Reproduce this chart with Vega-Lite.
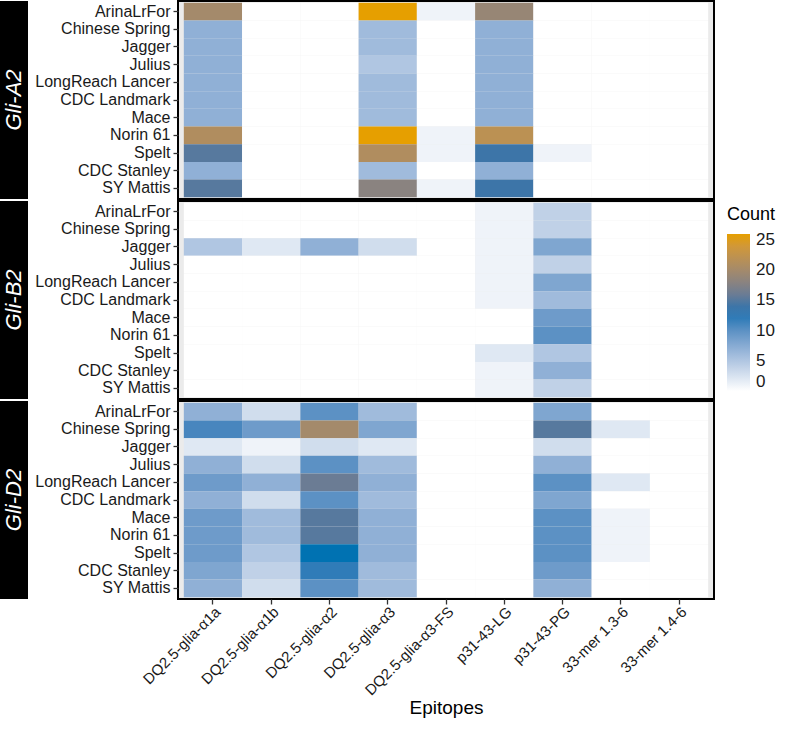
{
  "$schema": "https://vega.github.io/schema/vega-lite/v6.json",
  "padding": {"left": 0, "top": 0, "right": 0, "bottom": 0},
  "background": "white",
  "config": {
    "font": "Liberation Sans",
    "view": {"stroke": null},
    "axis": {
      "labelFont": "Liberation Sans", "labelFontSize": 16, "labelColor": "#1a1a1a",
      "tickColor": "#333333", "tickSize": 5, "tickWidth": 1.3, "domain": false, "grid": false,
      "titleFont": "Liberation Sans", "titleFontSize": 19, "titleFontWeight": "normal", "titleColor": "black"
    }
  },
  "datasets": {
    "counts": [
      {"gene":"Gli-A2","cultivar":"ArinaLrFor","epitope":"DQ2.5-glia-α1a","count":20},
      {"gene":"Gli-A2","cultivar":"ArinaLrFor","epitope":"DQ2.5-glia-α1b","count":0},
      {"gene":"Gli-A2","cultivar":"ArinaLrFor","epitope":"DQ2.5-glia-α2","count":0},
      {"gene":"Gli-A2","cultivar":"ArinaLrFor","epitope":"DQ2.5-glia-α3","count":26},
      {"gene":"Gli-A2","cultivar":"ArinaLrFor","epitope":"DQ2.5-glia-α3-FS","count":1},
      {"gene":"Gli-A2","cultivar":"ArinaLrFor","epitope":"p31-43-LG","count":19},
      {"gene":"Gli-A2","cultivar":"ArinaLrFor","epitope":"p31-43-PG","count":0},
      {"gene":"Gli-A2","cultivar":"ArinaLrFor","epitope":"33-mer 1.3-6","count":0},
      {"gene":"Gli-A2","cultivar":"ArinaLrFor","epitope":"33-mer 1.4-6","count":0},
      {"gene":"Gli-A2","cultivar":"Chinese Spring","epitope":"DQ2.5-glia-α1a","count":7},
      {"gene":"Gli-A2","cultivar":"Chinese Spring","epitope":"DQ2.5-glia-α1b","count":0},
      {"gene":"Gli-A2","cultivar":"Chinese Spring","epitope":"DQ2.5-glia-α2","count":0},
      {"gene":"Gli-A2","cultivar":"Chinese Spring","epitope":"DQ2.5-glia-α3","count":6},
      {"gene":"Gli-A2","cultivar":"Chinese Spring","epitope":"DQ2.5-glia-α3-FS","count":0},
      {"gene":"Gli-A2","cultivar":"Chinese Spring","epitope":"p31-43-LG","count":7},
      {"gene":"Gli-A2","cultivar":"Chinese Spring","epitope":"p31-43-PG","count":0},
      {"gene":"Gli-A2","cultivar":"Chinese Spring","epitope":"33-mer 1.3-6","count":0},
      {"gene":"Gli-A2","cultivar":"Chinese Spring","epitope":"33-mer 1.4-6","count":0},
      {"gene":"Gli-A2","cultivar":"Jagger","epitope":"DQ2.5-glia-α1a","count":7},
      {"gene":"Gli-A2","cultivar":"Jagger","epitope":"DQ2.5-glia-α1b","count":0},
      {"gene":"Gli-A2","cultivar":"Jagger","epitope":"DQ2.5-glia-α2","count":0},
      {"gene":"Gli-A2","cultivar":"Jagger","epitope":"DQ2.5-glia-α3","count":6},
      {"gene":"Gli-A2","cultivar":"Jagger","epitope":"DQ2.5-glia-α3-FS","count":0},
      {"gene":"Gli-A2","cultivar":"Jagger","epitope":"p31-43-LG","count":7},
      {"gene":"Gli-A2","cultivar":"Jagger","epitope":"p31-43-PG","count":0},
      {"gene":"Gli-A2","cultivar":"Jagger","epitope":"33-mer 1.3-6","count":0},
      {"gene":"Gli-A2","cultivar":"Jagger","epitope":"33-mer 1.4-6","count":0},
      {"gene":"Gli-A2","cultivar":"Julius","epitope":"DQ2.5-glia-α1a","count":7},
      {"gene":"Gli-A2","cultivar":"Julius","epitope":"DQ2.5-glia-α1b","count":0},
      {"gene":"Gli-A2","cultivar":"Julius","epitope":"DQ2.5-glia-α2","count":0},
      {"gene":"Gli-A2","cultivar":"Julius","epitope":"DQ2.5-glia-α3","count":5},
      {"gene":"Gli-A2","cultivar":"Julius","epitope":"DQ2.5-glia-α3-FS","count":0},
      {"gene":"Gli-A2","cultivar":"Julius","epitope":"p31-43-LG","count":7},
      {"gene":"Gli-A2","cultivar":"Julius","epitope":"p31-43-PG","count":0},
      {"gene":"Gli-A2","cultivar":"Julius","epitope":"33-mer 1.3-6","count":0},
      {"gene":"Gli-A2","cultivar":"Julius","epitope":"33-mer 1.4-6","count":0},
      {"gene":"Gli-A2","cultivar":"LongReach Lancer","epitope":"DQ2.5-glia-α1a","count":7},
      {"gene":"Gli-A2","cultivar":"LongReach Lancer","epitope":"DQ2.5-glia-α1b","count":0},
      {"gene":"Gli-A2","cultivar":"LongReach Lancer","epitope":"DQ2.5-glia-α2","count":0},
      {"gene":"Gli-A2","cultivar":"LongReach Lancer","epitope":"DQ2.5-glia-α3","count":6},
      {"gene":"Gli-A2","cultivar":"LongReach Lancer","epitope":"DQ2.5-glia-α3-FS","count":0},
      {"gene":"Gli-A2","cultivar":"LongReach Lancer","epitope":"p31-43-LG","count":7},
      {"gene":"Gli-A2","cultivar":"LongReach Lancer","epitope":"p31-43-PG","count":0},
      {"gene":"Gli-A2","cultivar":"LongReach Lancer","epitope":"33-mer 1.3-6","count":0},
      {"gene":"Gli-A2","cultivar":"LongReach Lancer","epitope":"33-mer 1.4-6","count":0},
      {"gene":"Gli-A2","cultivar":"CDC Landmark","epitope":"DQ2.5-glia-α1a","count":7},
      {"gene":"Gli-A2","cultivar":"CDC Landmark","epitope":"DQ2.5-glia-α1b","count":0},
      {"gene":"Gli-A2","cultivar":"CDC Landmark","epitope":"DQ2.5-glia-α2","count":0},
      {"gene":"Gli-A2","cultivar":"CDC Landmark","epitope":"DQ2.5-glia-α3","count":6},
      {"gene":"Gli-A2","cultivar":"CDC Landmark","epitope":"DQ2.5-glia-α3-FS","count":0},
      {"gene":"Gli-A2","cultivar":"CDC Landmark","epitope":"p31-43-LG","count":7},
      {"gene":"Gli-A2","cultivar":"CDC Landmark","epitope":"p31-43-PG","count":0},
      {"gene":"Gli-A2","cultivar":"CDC Landmark","epitope":"33-mer 1.3-6","count":0},
      {"gene":"Gli-A2","cultivar":"CDC Landmark","epitope":"33-mer 1.4-6","count":0},
      {"gene":"Gli-A2","cultivar":"Mace","epitope":"DQ2.5-glia-α1a","count":7},
      {"gene":"Gli-A2","cultivar":"Mace","epitope":"DQ2.5-glia-α1b","count":0},
      {"gene":"Gli-A2","cultivar":"Mace","epitope":"DQ2.5-glia-α2","count":0},
      {"gene":"Gli-A2","cultivar":"Mace","epitope":"DQ2.5-glia-α3","count":6},
      {"gene":"Gli-A2","cultivar":"Mace","epitope":"DQ2.5-glia-α3-FS","count":0},
      {"gene":"Gli-A2","cultivar":"Mace","epitope":"p31-43-LG","count":7},
      {"gene":"Gli-A2","cultivar":"Mace","epitope":"p31-43-PG","count":0},
      {"gene":"Gli-A2","cultivar":"Mace","epitope":"33-mer 1.3-6","count":0},
      {"gene":"Gli-A2","cultivar":"Mace","epitope":"33-mer 1.4-6","count":0},
      {"gene":"Gli-A2","cultivar":"Norin 61","epitope":"DQ2.5-glia-α1a","count":21},
      {"gene":"Gli-A2","cultivar":"Norin 61","epitope":"DQ2.5-glia-α1b","count":0},
      {"gene":"Gli-A2","cultivar":"Norin 61","epitope":"DQ2.5-glia-α2","count":0},
      {"gene":"Gli-A2","cultivar":"Norin 61","epitope":"DQ2.5-glia-α3","count":26},
      {"gene":"Gli-A2","cultivar":"Norin 61","epitope":"DQ2.5-glia-α3-FS","count":1},
      {"gene":"Gli-A2","cultivar":"Norin 61","epitope":"p31-43-LG","count":22},
      {"gene":"Gli-A2","cultivar":"Norin 61","epitope":"p31-43-PG","count":0},
      {"gene":"Gli-A2","cultivar":"Norin 61","epitope":"33-mer 1.3-6","count":0},
      {"gene":"Gli-A2","cultivar":"Norin 61","epitope":"33-mer 1.4-6","count":0},
      {"gene":"Gli-A2","cultivar":"Spelt","epitope":"DQ2.5-glia-α1a","count":15},
      {"gene":"Gli-A2","cultivar":"Spelt","epitope":"DQ2.5-glia-α1b","count":0},
      {"gene":"Gli-A2","cultivar":"Spelt","epitope":"DQ2.5-glia-α2","count":0},
      {"gene":"Gli-A2","cultivar":"Spelt","epitope":"DQ2.5-glia-α3","count":21},
      {"gene":"Gli-A2","cultivar":"Spelt","epitope":"DQ2.5-glia-α3-FS","count":1},
      {"gene":"Gli-A2","cultivar":"Spelt","epitope":"p31-43-LG","count":14},
      {"gene":"Gli-A2","cultivar":"Spelt","epitope":"p31-43-PG","count":1},
      {"gene":"Gli-A2","cultivar":"Spelt","epitope":"33-mer 1.3-6","count":0},
      {"gene":"Gli-A2","cultivar":"Spelt","epitope":"33-mer 1.4-6","count":0},
      {"gene":"Gli-A2","cultivar":"CDC Stanley","epitope":"DQ2.5-glia-α1a","count":7},
      {"gene":"Gli-A2","cultivar":"CDC Stanley","epitope":"DQ2.5-glia-α1b","count":0},
      {"gene":"Gli-A2","cultivar":"CDC Stanley","epitope":"DQ2.5-glia-α2","count":0},
      {"gene":"Gli-A2","cultivar":"CDC Stanley","epitope":"DQ2.5-glia-α3","count":6},
      {"gene":"Gli-A2","cultivar":"CDC Stanley","epitope":"DQ2.5-glia-α3-FS","count":0},
      {"gene":"Gli-A2","cultivar":"CDC Stanley","epitope":"p31-43-LG","count":7},
      {"gene":"Gli-A2","cultivar":"CDC Stanley","epitope":"p31-43-PG","count":0},
      {"gene":"Gli-A2","cultivar":"CDC Stanley","epitope":"33-mer 1.3-6","count":0},
      {"gene":"Gli-A2","cultivar":"CDC Stanley","epitope":"33-mer 1.4-6","count":0},
      {"gene":"Gli-A2","cultivar":"SY Mattis","epitope":"DQ2.5-glia-α1a","count":15},
      {"gene":"Gli-A2","cultivar":"SY Mattis","epitope":"DQ2.5-glia-α1b","count":0},
      {"gene":"Gli-A2","cultivar":"SY Mattis","epitope":"DQ2.5-glia-α2","count":0},
      {"gene":"Gli-A2","cultivar":"SY Mattis","epitope":"DQ2.5-glia-α3","count":18},
      {"gene":"Gli-A2","cultivar":"SY Mattis","epitope":"DQ2.5-glia-α3-FS","count":1},
      {"gene":"Gli-A2","cultivar":"SY Mattis","epitope":"p31-43-LG","count":14},
      {"gene":"Gli-A2","cultivar":"SY Mattis","epitope":"p31-43-PG","count":0},
      {"gene":"Gli-A2","cultivar":"SY Mattis","epitope":"33-mer 1.3-6","count":0},
      {"gene":"Gli-A2","cultivar":"SY Mattis","epitope":"33-mer 1.4-6","count":0},

      {"gene":"Gli-B2","cultivar":"ArinaLrFor","epitope":"DQ2.5-glia-α1a","count":0},
      {"gene":"Gli-B2","cultivar":"ArinaLrFor","epitope":"DQ2.5-glia-α1b","count":0},
      {"gene":"Gli-B2","cultivar":"ArinaLrFor","epitope":"DQ2.5-glia-α2","count":0},
      {"gene":"Gli-B2","cultivar":"ArinaLrFor","epitope":"DQ2.5-glia-α3","count":0},
      {"gene":"Gli-B2","cultivar":"ArinaLrFor","epitope":"DQ2.5-glia-α3-FS","count":0},
      {"gene":"Gli-B2","cultivar":"ArinaLrFor","epitope":"p31-43-LG","count":1},
      {"gene":"Gli-B2","cultivar":"ArinaLrFor","epitope":"p31-43-PG","count":4},
      {"gene":"Gli-B2","cultivar":"ArinaLrFor","epitope":"33-mer 1.3-6","count":0},
      {"gene":"Gli-B2","cultivar":"ArinaLrFor","epitope":"33-mer 1.4-6","count":0},
      {"gene":"Gli-B2","cultivar":"Chinese Spring","epitope":"DQ2.5-glia-α1a","count":0},
      {"gene":"Gli-B2","cultivar":"Chinese Spring","epitope":"DQ2.5-glia-α1b","count":0},
      {"gene":"Gli-B2","cultivar":"Chinese Spring","epitope":"DQ2.5-glia-α2","count":0},
      {"gene":"Gli-B2","cultivar":"Chinese Spring","epitope":"DQ2.5-glia-α3","count":0},
      {"gene":"Gli-B2","cultivar":"Chinese Spring","epitope":"DQ2.5-glia-α3-FS","count":0},
      {"gene":"Gli-B2","cultivar":"Chinese Spring","epitope":"p31-43-LG","count":1},
      {"gene":"Gli-B2","cultivar":"Chinese Spring","epitope":"p31-43-PG","count":4},
      {"gene":"Gli-B2","cultivar":"Chinese Spring","epitope":"33-mer 1.3-6","count":0},
      {"gene":"Gli-B2","cultivar":"Chinese Spring","epitope":"33-mer 1.4-6","count":0},
      {"gene":"Gli-B2","cultivar":"Jagger","epitope":"DQ2.5-glia-α1a","count":5},
      {"gene":"Gli-B2","cultivar":"Jagger","epitope":"DQ2.5-glia-α1b","count":2},
      {"gene":"Gli-B2","cultivar":"Jagger","epitope":"DQ2.5-glia-α2","count":7},
      {"gene":"Gli-B2","cultivar":"Jagger","epitope":"DQ2.5-glia-α3","count":3},
      {"gene":"Gli-B2","cultivar":"Jagger","epitope":"DQ2.5-glia-α3-FS","count":0},
      {"gene":"Gli-B2","cultivar":"Jagger","epitope":"p31-43-LG","count":1},
      {"gene":"Gli-B2","cultivar":"Jagger","epitope":"p31-43-PG","count":8},
      {"gene":"Gli-B2","cultivar":"Jagger","epitope":"33-mer 1.3-6","count":0},
      {"gene":"Gli-B2","cultivar":"Jagger","epitope":"33-mer 1.4-6","count":0},
      {"gene":"Gli-B2","cultivar":"Julius","epitope":"DQ2.5-glia-α1a","count":0},
      {"gene":"Gli-B2","cultivar":"Julius","epitope":"DQ2.5-glia-α1b","count":0},
      {"gene":"Gli-B2","cultivar":"Julius","epitope":"DQ2.5-glia-α2","count":0},
      {"gene":"Gli-B2","cultivar":"Julius","epitope":"DQ2.5-glia-α3","count":0},
      {"gene":"Gli-B2","cultivar":"Julius","epitope":"DQ2.5-glia-α3-FS","count":0},
      {"gene":"Gli-B2","cultivar":"Julius","epitope":"p31-43-LG","count":1},
      {"gene":"Gli-B2","cultivar":"Julius","epitope":"p31-43-PG","count":4},
      {"gene":"Gli-B2","cultivar":"Julius","epitope":"33-mer 1.3-6","count":0},
      {"gene":"Gli-B2","cultivar":"Julius","epitope":"33-mer 1.4-6","count":0},
      {"gene":"Gli-B2","cultivar":"LongReach Lancer","epitope":"DQ2.5-glia-α1a","count":0},
      {"gene":"Gli-B2","cultivar":"LongReach Lancer","epitope":"DQ2.5-glia-α1b","count":0},
      {"gene":"Gli-B2","cultivar":"LongReach Lancer","epitope":"DQ2.5-glia-α2","count":0},
      {"gene":"Gli-B2","cultivar":"LongReach Lancer","epitope":"DQ2.5-glia-α3","count":0},
      {"gene":"Gli-B2","cultivar":"LongReach Lancer","epitope":"DQ2.5-glia-α3-FS","count":0},
      {"gene":"Gli-B2","cultivar":"LongReach Lancer","epitope":"p31-43-LG","count":1},
      {"gene":"Gli-B2","cultivar":"LongReach Lancer","epitope":"p31-43-PG","count":8},
      {"gene":"Gli-B2","cultivar":"LongReach Lancer","epitope":"33-mer 1.3-6","count":0},
      {"gene":"Gli-B2","cultivar":"LongReach Lancer","epitope":"33-mer 1.4-6","count":0},
      {"gene":"Gli-B2","cultivar":"CDC Landmark","epitope":"DQ2.5-glia-α1a","count":0},
      {"gene":"Gli-B2","cultivar":"CDC Landmark","epitope":"DQ2.5-glia-α1b","count":0},
      {"gene":"Gli-B2","cultivar":"CDC Landmark","epitope":"DQ2.5-glia-α2","count":0},
      {"gene":"Gli-B2","cultivar":"CDC Landmark","epitope":"DQ2.5-glia-α3","count":0},
      {"gene":"Gli-B2","cultivar":"CDC Landmark","epitope":"DQ2.5-glia-α3-FS","count":0},
      {"gene":"Gli-B2","cultivar":"CDC Landmark","epitope":"p31-43-LG","count":1},
      {"gene":"Gli-B2","cultivar":"CDC Landmark","epitope":"p31-43-PG","count":6},
      {"gene":"Gli-B2","cultivar":"CDC Landmark","epitope":"33-mer 1.3-6","count":0},
      {"gene":"Gli-B2","cultivar":"CDC Landmark","epitope":"33-mer 1.4-6","count":0},
      {"gene":"Gli-B2","cultivar":"Mace","epitope":"DQ2.5-glia-α1a","count":0},
      {"gene":"Gli-B2","cultivar":"Mace","epitope":"DQ2.5-glia-α1b","count":0},
      {"gene":"Gli-B2","cultivar":"Mace","epitope":"DQ2.5-glia-α2","count":0},
      {"gene":"Gli-B2","cultivar":"Mace","epitope":"DQ2.5-glia-α3","count":0},
      {"gene":"Gli-B2","cultivar":"Mace","epitope":"DQ2.5-glia-α3-FS","count":0},
      {"gene":"Gli-B2","cultivar":"Mace","epitope":"p31-43-LG","count":0},
      {"gene":"Gli-B2","cultivar":"Mace","epitope":"p31-43-PG","count":9},
      {"gene":"Gli-B2","cultivar":"Mace","epitope":"33-mer 1.3-6","count":0},
      {"gene":"Gli-B2","cultivar":"Mace","epitope":"33-mer 1.4-6","count":0},
      {"gene":"Gli-B2","cultivar":"Norin 61","epitope":"DQ2.5-glia-α1a","count":0},
      {"gene":"Gli-B2","cultivar":"Norin 61","epitope":"DQ2.5-glia-α1b","count":0},
      {"gene":"Gli-B2","cultivar":"Norin 61","epitope":"DQ2.5-glia-α2","count":0},
      {"gene":"Gli-B2","cultivar":"Norin 61","epitope":"DQ2.5-glia-α3","count":0},
      {"gene":"Gli-B2","cultivar":"Norin 61","epitope":"DQ2.5-glia-α3-FS","count":0},
      {"gene":"Gli-B2","cultivar":"Norin 61","epitope":"p31-43-LG","count":0},
      {"gene":"Gli-B2","cultivar":"Norin 61","epitope":"p31-43-PG","count":10},
      {"gene":"Gli-B2","cultivar":"Norin 61","epitope":"33-mer 1.3-6","count":0},
      {"gene":"Gli-B2","cultivar":"Norin 61","epitope":"33-mer 1.4-6","count":0},
      {"gene":"Gli-B2","cultivar":"Spelt","epitope":"DQ2.5-glia-α1a","count":0},
      {"gene":"Gli-B2","cultivar":"Spelt","epitope":"DQ2.5-glia-α1b","count":0},
      {"gene":"Gli-B2","cultivar":"Spelt","epitope":"DQ2.5-glia-α2","count":0},
      {"gene":"Gli-B2","cultivar":"Spelt","epitope":"DQ2.5-glia-α3","count":0},
      {"gene":"Gli-B2","cultivar":"Spelt","epitope":"DQ2.5-glia-α3-FS","count":0},
      {"gene":"Gli-B2","cultivar":"Spelt","epitope":"p31-43-LG","count":2},
      {"gene":"Gli-B2","cultivar":"Spelt","epitope":"p31-43-PG","count":5},
      {"gene":"Gli-B2","cultivar":"Spelt","epitope":"33-mer 1.3-6","count":0},
      {"gene":"Gli-B2","cultivar":"Spelt","epitope":"33-mer 1.4-6","count":0},
      {"gene":"Gli-B2","cultivar":"CDC Stanley","epitope":"DQ2.5-glia-α1a","count":0},
      {"gene":"Gli-B2","cultivar":"CDC Stanley","epitope":"DQ2.5-glia-α1b","count":0},
      {"gene":"Gli-B2","cultivar":"CDC Stanley","epitope":"DQ2.5-glia-α2","count":0},
      {"gene":"Gli-B2","cultivar":"CDC Stanley","epitope":"DQ2.5-glia-α3","count":0},
      {"gene":"Gli-B2","cultivar":"CDC Stanley","epitope":"DQ2.5-glia-α3-FS","count":0},
      {"gene":"Gli-B2","cultivar":"CDC Stanley","epitope":"p31-43-LG","count":1},
      {"gene":"Gli-B2","cultivar":"CDC Stanley","epitope":"p31-43-PG","count":7},
      {"gene":"Gli-B2","cultivar":"CDC Stanley","epitope":"33-mer 1.3-6","count":0},
      {"gene":"Gli-B2","cultivar":"CDC Stanley","epitope":"33-mer 1.4-6","count":0},
      {"gene":"Gli-B2","cultivar":"SY Mattis","epitope":"DQ2.5-glia-α1a","count":0},
      {"gene":"Gli-B2","cultivar":"SY Mattis","epitope":"DQ2.5-glia-α1b","count":0},
      {"gene":"Gli-B2","cultivar":"SY Mattis","epitope":"DQ2.5-glia-α2","count":0},
      {"gene":"Gli-B2","cultivar":"SY Mattis","epitope":"DQ2.5-glia-α3","count":0},
      {"gene":"Gli-B2","cultivar":"SY Mattis","epitope":"DQ2.5-glia-α3-FS","count":0},
      {"gene":"Gli-B2","cultivar":"SY Mattis","epitope":"p31-43-LG","count":1},
      {"gene":"Gli-B2","cultivar":"SY Mattis","epitope":"p31-43-PG","count":4},
      {"gene":"Gli-B2","cultivar":"SY Mattis","epitope":"33-mer 1.3-6","count":0},
      {"gene":"Gli-B2","cultivar":"SY Mattis","epitope":"33-mer 1.4-6","count":0},

      {"gene":"Gli-D2","cultivar":"ArinaLrFor","epitope":"DQ2.5-glia-α1a","count":7},
      {"gene":"Gli-D2","cultivar":"ArinaLrFor","epitope":"DQ2.5-glia-α1b","count":3},
      {"gene":"Gli-D2","cultivar":"ArinaLrFor","epitope":"DQ2.5-glia-α2","count":10},
      {"gene":"Gli-D2","cultivar":"ArinaLrFor","epitope":"DQ2.5-glia-α3","count":6},
      {"gene":"Gli-D2","cultivar":"ArinaLrFor","epitope":"DQ2.5-glia-α3-FS","count":0},
      {"gene":"Gli-D2","cultivar":"ArinaLrFor","epitope":"p31-43-LG","count":0},
      {"gene":"Gli-D2","cultivar":"ArinaLrFor","epitope":"p31-43-PG","count":8},
      {"gene":"Gli-D2","cultivar":"ArinaLrFor","epitope":"33-mer 1.3-6","count":0},
      {"gene":"Gli-D2","cultivar":"ArinaLrFor","epitope":"33-mer 1.4-6","count":0},
      {"gene":"Gli-D2","cultivar":"Chinese Spring","epitope":"DQ2.5-glia-α1a","count":11},
      {"gene":"Gli-D2","cultivar":"Chinese Spring","epitope":"DQ2.5-glia-α1b","count":9},
      {"gene":"Gli-D2","cultivar":"Chinese Spring","epitope":"DQ2.5-glia-α2","count":20},
      {"gene":"Gli-D2","cultivar":"Chinese Spring","epitope":"DQ2.5-glia-α3","count":8},
      {"gene":"Gli-D2","cultivar":"Chinese Spring","epitope":"DQ2.5-glia-α3-FS","count":0},
      {"gene":"Gli-D2","cultivar":"Chinese Spring","epitope":"p31-43-LG","count":0},
      {"gene":"Gli-D2","cultivar":"Chinese Spring","epitope":"p31-43-PG","count":15},
      {"gene":"Gli-D2","cultivar":"Chinese Spring","epitope":"33-mer 1.3-6","count":2},
      {"gene":"Gli-D2","cultivar":"Chinese Spring","epitope":"33-mer 1.4-6","count":0},
      {"gene":"Gli-D2","cultivar":"Jagger","epitope":"DQ2.5-glia-α1a","count":2},
      {"gene":"Gli-D2","cultivar":"Jagger","epitope":"DQ2.5-glia-α1b","count":1},
      {"gene":"Gli-D2","cultivar":"Jagger","epitope":"DQ2.5-glia-α2","count":3},
      {"gene":"Gli-D2","cultivar":"Jagger","epitope":"DQ2.5-glia-α3","count":2},
      {"gene":"Gli-D2","cultivar":"Jagger","epitope":"DQ2.5-glia-α3-FS","count":0},
      {"gene":"Gli-D2","cultivar":"Jagger","epitope":"p31-43-LG","count":0},
      {"gene":"Gli-D2","cultivar":"Jagger","epitope":"p31-43-PG","count":3},
      {"gene":"Gli-D2","cultivar":"Jagger","epitope":"33-mer 1.3-6","count":0},
      {"gene":"Gli-D2","cultivar":"Jagger","epitope":"33-mer 1.4-6","count":0},
      {"gene":"Gli-D2","cultivar":"Julius","epitope":"DQ2.5-glia-α1a","count":7},
      {"gene":"Gli-D2","cultivar":"Julius","epitope":"DQ2.5-glia-α1b","count":3},
      {"gene":"Gli-D2","cultivar":"Julius","epitope":"DQ2.5-glia-α2","count":10},
      {"gene":"Gli-D2","cultivar":"Julius","epitope":"DQ2.5-glia-α3","count":6},
      {"gene":"Gli-D2","cultivar":"Julius","epitope":"DQ2.5-glia-α3-FS","count":0},
      {"gene":"Gli-D2","cultivar":"Julius","epitope":"p31-43-LG","count":0},
      {"gene":"Gli-D2","cultivar":"Julius","epitope":"p31-43-PG","count":7},
      {"gene":"Gli-D2","cultivar":"Julius","epitope":"33-mer 1.3-6","count":0},
      {"gene":"Gli-D2","cultivar":"Julius","epitope":"33-mer 1.4-6","count":0},
      {"gene":"Gli-D2","cultivar":"LongReach Lancer","epitope":"DQ2.5-glia-α1a","count":9},
      {"gene":"Gli-D2","cultivar":"LongReach Lancer","epitope":"DQ2.5-glia-α1b","count":7},
      {"gene":"Gli-D2","cultivar":"LongReach Lancer","epitope":"DQ2.5-glia-α2","count":16},
      {"gene":"Gli-D2","cultivar":"LongReach Lancer","epitope":"DQ2.5-glia-α3","count":7},
      {"gene":"Gli-D2","cultivar":"LongReach Lancer","epitope":"DQ2.5-glia-α3-FS","count":0},
      {"gene":"Gli-D2","cultivar":"LongReach Lancer","epitope":"p31-43-LG","count":0},
      {"gene":"Gli-D2","cultivar":"LongReach Lancer","epitope":"p31-43-PG","count":10},
      {"gene":"Gli-D2","cultivar":"LongReach Lancer","epitope":"33-mer 1.3-6","count":2},
      {"gene":"Gli-D2","cultivar":"LongReach Lancer","epitope":"33-mer 1.4-6","count":0},
      {"gene":"Gli-D2","cultivar":"CDC Landmark","epitope":"DQ2.5-glia-α1a","count":7},
      {"gene":"Gli-D2","cultivar":"CDC Landmark","epitope":"DQ2.5-glia-α1b","count":3},
      {"gene":"Gli-D2","cultivar":"CDC Landmark","epitope":"DQ2.5-glia-α2","count":10},
      {"gene":"Gli-D2","cultivar":"CDC Landmark","epitope":"DQ2.5-glia-α3","count":6},
      {"gene":"Gli-D2","cultivar":"CDC Landmark","epitope":"DQ2.5-glia-α3-FS","count":0},
      {"gene":"Gli-D2","cultivar":"CDC Landmark","epitope":"p31-43-LG","count":0},
      {"gene":"Gli-D2","cultivar":"CDC Landmark","epitope":"p31-43-PG","count":8},
      {"gene":"Gli-D2","cultivar":"CDC Landmark","epitope":"33-mer 1.3-6","count":0},
      {"gene":"Gli-D2","cultivar":"CDC Landmark","epitope":"33-mer 1.4-6","count":0},
      {"gene":"Gli-D2","cultivar":"Mace","epitope":"DQ2.5-glia-α1a","count":9},
      {"gene":"Gli-D2","cultivar":"Mace","epitope":"DQ2.5-glia-α1b","count":6},
      {"gene":"Gli-D2","cultivar":"Mace","epitope":"DQ2.5-glia-α2","count":15},
      {"gene":"Gli-D2","cultivar":"Mace","epitope":"DQ2.5-glia-α3","count":7},
      {"gene":"Gli-D2","cultivar":"Mace","epitope":"DQ2.5-glia-α3-FS","count":0},
      {"gene":"Gli-D2","cultivar":"Mace","epitope":"p31-43-LG","count":0},
      {"gene":"Gli-D2","cultivar":"Mace","epitope":"p31-43-PG","count":10},
      {"gene":"Gli-D2","cultivar":"Mace","epitope":"33-mer 1.3-6","count":1},
      {"gene":"Gli-D2","cultivar":"Mace","epitope":"33-mer 1.4-6","count":0},
      {"gene":"Gli-D2","cultivar":"Norin 61","epitope":"DQ2.5-glia-α1a","count":9},
      {"gene":"Gli-D2","cultivar":"Norin 61","epitope":"DQ2.5-glia-α1b","count":6},
      {"gene":"Gli-D2","cultivar":"Norin 61","epitope":"DQ2.5-glia-α2","count":15},
      {"gene":"Gli-D2","cultivar":"Norin 61","epitope":"DQ2.5-glia-α3","count":7},
      {"gene":"Gli-D2","cultivar":"Norin 61","epitope":"DQ2.5-glia-α3-FS","count":0},
      {"gene":"Gli-D2","cultivar":"Norin 61","epitope":"p31-43-LG","count":0},
      {"gene":"Gli-D2","cultivar":"Norin 61","epitope":"p31-43-PG","count":10},
      {"gene":"Gli-D2","cultivar":"Norin 61","epitope":"33-mer 1.3-6","count":1},
      {"gene":"Gli-D2","cultivar":"Norin 61","epitope":"33-mer 1.4-6","count":0},
      {"gene":"Gli-D2","cultivar":"Spelt","epitope":"DQ2.5-glia-α1a","count":9},
      {"gene":"Gli-D2","cultivar":"Spelt","epitope":"DQ2.5-glia-α1b","count":5},
      {"gene":"Gli-D2","cultivar":"Spelt","epitope":"DQ2.5-glia-α2","count":13},
      {"gene":"Gli-D2","cultivar":"Spelt","epitope":"DQ2.5-glia-α3","count":7},
      {"gene":"Gli-D2","cultivar":"Spelt","epitope":"DQ2.5-glia-α3-FS","count":0},
      {"gene":"Gli-D2","cultivar":"Spelt","epitope":"p31-43-LG","count":0},
      {"gene":"Gli-D2","cultivar":"Spelt","epitope":"p31-43-PG","count":10},
      {"gene":"Gli-D2","cultivar":"Spelt","epitope":"33-mer 1.3-6","count":1},
      {"gene":"Gli-D2","cultivar":"Spelt","epitope":"33-mer 1.4-6","count":0},
      {"gene":"Gli-D2","cultivar":"CDC Stanley","epitope":"DQ2.5-glia-α1a","count":8},
      {"gene":"Gli-D2","cultivar":"CDC Stanley","epitope":"DQ2.5-glia-α1b","count":4},
      {"gene":"Gli-D2","cultivar":"CDC Stanley","epitope":"DQ2.5-glia-α2","count":12},
      {"gene":"Gli-D2","cultivar":"CDC Stanley","epitope":"DQ2.5-glia-α3","count":6},
      {"gene":"Gli-D2","cultivar":"CDC Stanley","epitope":"DQ2.5-glia-α3-FS","count":0},
      {"gene":"Gli-D2","cultivar":"CDC Stanley","epitope":"p31-43-LG","count":0},
      {"gene":"Gli-D2","cultivar":"CDC Stanley","epitope":"p31-43-PG","count":9},
      {"gene":"Gli-D2","cultivar":"CDC Stanley","epitope":"33-mer 1.3-6","count":0},
      {"gene":"Gli-D2","cultivar":"CDC Stanley","epitope":"33-mer 1.4-6","count":0},
      {"gene":"Gli-D2","cultivar":"SY Mattis","epitope":"DQ2.5-glia-α1a","count":7},
      {"gene":"Gli-D2","cultivar":"SY Mattis","epitope":"DQ2.5-glia-α1b","count":3},
      {"gene":"Gli-D2","cultivar":"SY Mattis","epitope":"DQ2.5-glia-α2","count":10},
      {"gene":"Gli-D2","cultivar":"SY Mattis","epitope":"DQ2.5-glia-α3","count":6},
      {"gene":"Gli-D2","cultivar":"SY Mattis","epitope":"DQ2.5-glia-α3-FS","count":0},
      {"gene":"Gli-D2","cultivar":"SY Mattis","epitope":"p31-43-LG","count":0},
      {"gene":"Gli-D2","cultivar":"SY Mattis","epitope":"p31-43-PG","count":7},
      {"gene":"Gli-D2","cultivar":"SY Mattis","epitope":"33-mer 1.3-6","count":0},
      {"gene":"Gli-D2","cultivar":"SY Mattis","epitope":"33-mer 1.4-6","count":0}
    ]
  },
  "resolve": {"scale": {"color": "shared"}},
  "spacing": 0,
  "vconcat": [
    {
      "spacing": 5,
      "hconcat": [
        {
          "width": 28, "height": 198,
          "view": {"fill": "black", "stroke": null},
          "data": {"name": "counts"},
          "transform": [{"filter": "datum.gene === 'Gli-A2'"}, {"aggregate": [{"op": "count", "as": "n"}], "groupby": ["gene"]}],
          "mark": {"type": "text", "angle": 270, "color": "white", "fontSize": 22, "fontStyle": "italic", "font": "Liberation Sans", "align": "center", "baseline": "middle"},
          "encoding": {"text": {"field": "gene", "type": "nominal"}}
        },
        {
          "width": 536, "height": 198,
          "view": {"fill": "#EBEBEB", "stroke": "black", "strokeWidth": 2},
          "data": {"name": "counts"},
          "transform": [{"filter": "datum.gene === 'Gli-A2'"}],
          "mark": {"type": "rect"},
          "encoding": {
            "x": {"field": "epitope", "type": "nominal",
              "scale": {"domain": ["DQ2.5-glia-α1a","DQ2.5-glia-α1b","DQ2.5-glia-α2","DQ2.5-glia-α3","DQ2.5-glia-α3-FS","p31-43-LG","p31-43-PG","33-mer 1.3-6","33-mer 1.4-6"], "paddingInner": 0, "paddingOuter": 0.1},
              "axis": null},
            "y": {"field": "cultivar", "type": "nominal",
              "scale": {"domain": ["ArinaLrFor","Chinese Spring","Jagger","Julius","LongReach Lancer","CDC Landmark","Mace","Norin 61","Spelt","CDC Stanley","SY Mattis"], "paddingInner": 0, "paddingOuter": 0.1},
              "axis": {"title": null, "bandPosition": 0.5, "labelPadding": 3}},
            "color": {"field": "count", "type": "quantitative",
              "scale": {"type": "linear", "domain": [0, 13, 26], "range": ["#ffffff", "#0072B2", "#E69F00"], "interpolate": "lab"},
              "legend": {"title": "Count", "orient": "none", "legendX": 727, "legendY": 205, "gradientLength": 157, "gradientThickness": 23, "values": [0, 5, 10, 15, 20, 25], "titleFontSize": 18, "titleFontWeight": "normal", "titleColor": "black", "titlePadding": 10, "labelFontSize": 17, "labelColor": "#1a1a1a", "labelOffset": 6, "gradientStrokeWidth": 0}}
          }
        }
      ]
    },
    {
      "spacing": 5,
      "hconcat": [
        {
          "width": 28, "height": 198,
          "view": {"fill": "black", "stroke": null},
          "data": {"name": "counts"},
          "transform": [{"filter": "datum.gene === 'Gli-B2'"}, {"aggregate": [{"op": "count", "as": "n"}], "groupby": ["gene"]}],
          "mark": {"type": "text", "angle": 270, "color": "white", "fontSize": 22, "fontStyle": "italic", "font": "Liberation Sans", "align": "center", "baseline": "middle"},
          "encoding": {"text": {"field": "gene", "type": "nominal"}}
        },
        {
          "width": 536, "height": 198,
          "view": {"fill": "#EBEBEB", "stroke": "black", "strokeWidth": 2},
          "data": {"name": "counts"},
          "transform": [{"filter": "datum.gene === 'Gli-B2'"}],
          "mark": {"type": "rect"},
          "encoding": {
            "x": {"field": "epitope", "type": "nominal",
              "scale": {"domain": ["DQ2.5-glia-α1a","DQ2.5-glia-α1b","DQ2.5-glia-α2","DQ2.5-glia-α3","DQ2.5-glia-α3-FS","p31-43-LG","p31-43-PG","33-mer 1.3-6","33-mer 1.4-6"], "paddingInner": 0, "paddingOuter": 0.1},
              "axis": null},
            "y": {"field": "cultivar", "type": "nominal",
              "scale": {"domain": ["ArinaLrFor","Chinese Spring","Jagger","Julius","LongReach Lancer","CDC Landmark","Mace","Norin 61","Spelt","CDC Stanley","SY Mattis"], "paddingInner": 0, "paddingOuter": 0.1},
              "axis": {"title": null, "bandPosition": 0.5, "labelPadding": 3}},
            "color": {"field": "count", "type": "quantitative",
              "scale": {"type": "linear", "domain": [0, 13, 26], "range": ["#ffffff", "#0072B2", "#E69F00"], "interpolate": "lab"},
              "legend": {"title": "Count", "orient": "none", "legendX": 727, "legendY": 205, "gradientLength": 157, "gradientThickness": 23, "values": [0, 5, 10, 15, 20, 25], "titleFontSize": 18, "titleFontWeight": "normal", "titleColor": "black", "titlePadding": 10, "labelFontSize": 17, "labelColor": "#1a1a1a", "labelOffset": 6, "gradientStrokeWidth": 0}}
          }
        }
      ]
    },
    {
      "spacing": 5,
      "hconcat": [
        {
          "width": 28, "height": 198,
          "view": {"fill": "black", "stroke": null},
          "data": {"name": "counts"},
          "transform": [{"filter": "datum.gene === 'Gli-D2'"}, {"aggregate": [{"op": "count", "as": "n"}], "groupby": ["gene"]}],
          "mark": {"type": "text", "angle": 270, "color": "white", "fontSize": 22, "fontStyle": "italic", "font": "Liberation Sans", "align": "center", "baseline": "middle"},
          "encoding": {"text": {"field": "gene", "type": "nominal"}}
        },
        {
          "width": 536, "height": 198,
          "view": {"fill": "#EBEBEB", "stroke": "black", "strokeWidth": 2},
          "data": {"name": "counts"},
          "transform": [{"filter": "datum.gene === 'Gli-D2'"}],
          "mark": {"type": "rect"},
          "encoding": {
            "x": {"field": "epitope", "type": "nominal",
              "scale": {"domain": ["DQ2.5-glia-α1a","DQ2.5-glia-α1b","DQ2.5-glia-α2","DQ2.5-glia-α3","DQ2.5-glia-α3-FS","p31-43-LG","p31-43-PG","33-mer 1.3-6","33-mer 1.4-6"], "paddingInner": 0, "paddingOuter": 0.1},
              "axis": {"title": "Epitopes", "bandPosition": 0.5, "labelAngle": -45, "labelAlign": "right", "labelBaseline": "top", "labelPadding": 0, "labelFontSize": 15, "titlePadding": 1}},
            "y": {"field": "cultivar", "type": "nominal",
              "scale": {"domain": ["ArinaLrFor","Chinese Spring","Jagger","Julius","LongReach Lancer","CDC Landmark","Mace","Norin 61","Spelt","CDC Stanley","SY Mattis"], "paddingInner": 0, "paddingOuter": 0.1},
              "axis": {"title": null, "bandPosition": 0.5, "labelPadding": 3}},
            "color": {"field": "count", "type": "quantitative",
              "scale": {"type": "linear", "domain": [0, 13, 26], "range": ["#ffffff", "#0072B2", "#E69F00"], "interpolate": "lab"},
              "legend": {"title": "Count", "orient": "none", "legendX": 727, "legendY": 205, "gradientLength": 157, "gradientThickness": 23, "values": [0, 5, 10, 15, 20, 25], "titleFontSize": 18, "titleFontWeight": "normal", "titleColor": "black", "titlePadding": 10, "labelFontSize": 17, "labelColor": "#1a1a1a", "labelOffset": 6, "gradientStrokeWidth": 0}}
          }
        }
      ]
    }
  ]
}
